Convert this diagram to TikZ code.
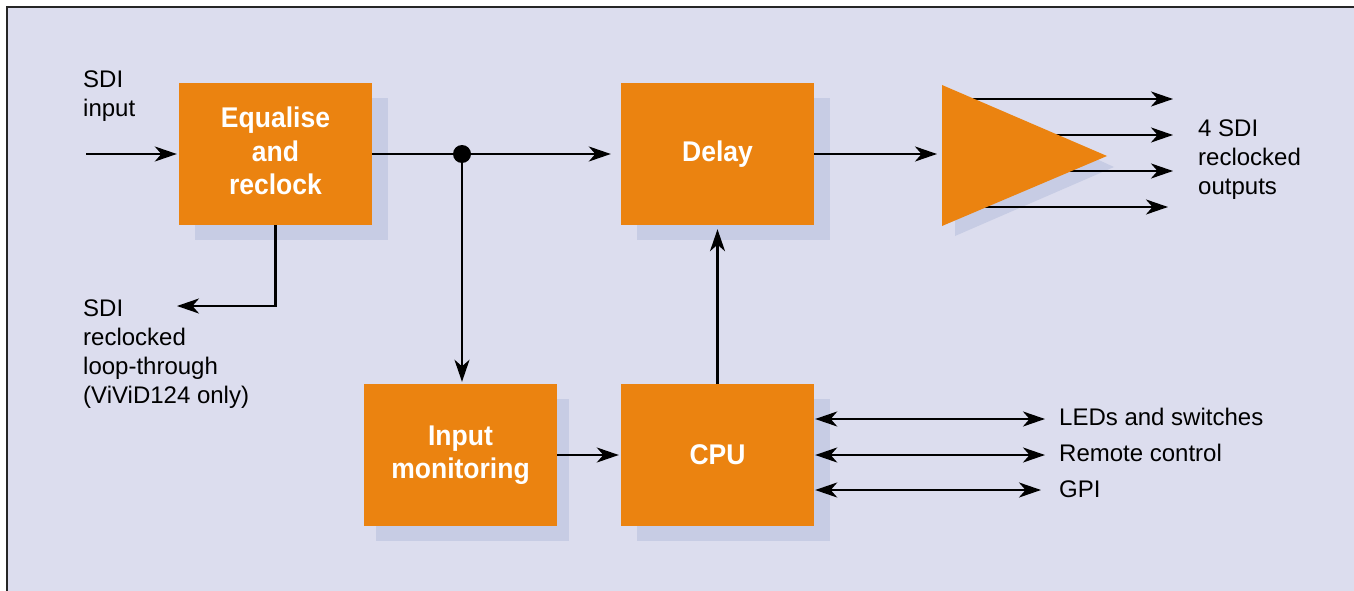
\documentclass[tikz,border=0pt]{standalone}
\usepackage{fontspec}
\setmainfont{Liberation Sans}
\newfontfamily\boxfont{Liberation Sans}[FakeStretch=0.93]
\usetikzlibrary{arrows.meta,shadows}
\definecolor{bgc}{HTML}{DCDDEE}
\definecolor{shc}{HTML}{C7CCE4}
\definecolor{orc}{HTML}{EB8310}
\begin{document}
\begin{tikzpicture}[x=1pt,y=-1pt,
  block/.style={fill=orc, draw=none, minimum width=193pt, minimum height=142pt,
    inner sep=0pt, text=white, align=center,
    font=\boxfont\bfseries\fontsize{28.5}{33.5}\selectfont},
  shad/.style={copy shadow={fill=shc, draw=none, shadow xshift=#1, shadow yshift=-15pt}},
  lbl/.style={font=\fontsize{24}{29}\selectfont, inner sep=0pt, align=left},
  dotnode/.style={circle, fill=black, minimum size=18pt, inner sep=0pt},
  tip/.tip={Stealth[length=22pt,width=15pt,inset=6.5pt]},
  wire/.style={line width=2.3pt, black},
  arr/.style={wire, -tip},
  biarr/.style={wire, tip-tip}]
\useasboundingbox (0,0) rectangle (1354,591);
% frame
\fill[bgc] (7,7) rectangle (1354,591);
\draw[line width=2pt, black!85] (7,591) -- (7,7) -- (1354,7);

% blocks
\node[block, shad=16pt] (eq) at (275.5,154) {Equalise\\and\\reclock\rule[-6pt]{0pt}{0pt}};
\node[block, shad=16pt] (delay) at (717.5,154) {Delay};
\node[block, shad=12pt] (mon) at (460.5,455) {Input\\monitoring};
\node[block, shad=16pt] (cpu) at (717.5,455) {CPU};

% amplifier shadow
\fill[shc] (955,95) -- (1114,167) -- (955,236) -- cycle;
% output arrows (behind the amplifier)
\coordinate (o1s) at (960,99);  \coordinate (o1e) at (1173,99);
\coordinate (o2s) at (960,135); \coordinate (o2e) at (1173,135);
\coordinate (o3s) at (960,171); \coordinate (o3e) at (1173,171);
\coordinate (o4s) at (960,207); \coordinate (o4e) at (1168,207);
\draw[arr] (o1s) -- (o1e);
\draw[arr] (o2s) -- (o2e);
\draw[arr] (o3s) -- (o3e);
\draw[arr] (o4s) -- (o4e);
% amplifier
\fill[orc] (942,85) -- (1107,156) -- (942,226) -- cycle;
\coordinate (ampin) at (942,154);

% labels
\node[lbl, anchor=north west] (sdiin) at (83,71) {SDI\\input};
\node[lbl, anchor=north west] (loopl) at (83,300) {SDI\\reclocked\\loop-through\\(ViViD124 only)};
\node[lbl, anchor=north west] (outl) at (1198,120) {4 SDI\\reclocked\\outputs};
\node[lbl, anchor=base west] (led) at (1059,425) {LEDs and switches};
\node[lbl, anchor=base west] (rem) at (1059,461) {Remote control};
\node[lbl, anchor=base west] (gpi) at (1059,497) {GPI};

% connectors
\coordinate (inS) at (86,154);
\draw[arr, shorten >=2pt] (inS) -- (eq.west);
\node[dotnode] (j) at (462,154) {};
\draw[wire] (eq.east) -- (j);
\draw[arr, shorten >=10pt] (j) -- (delay.west);
\draw[arr, shorten >=2pt] (j) -- (j |- mon.north);
\coordinate (loopE) at (177,306);
\draw[arr] (eq.south) |- (loopE);
\draw[arr, shorten >=4pt] (cpu.north) -- (delay.south);
\draw[arr, shorten >=2pt] (mon.east) -- (cpu.west);
\draw[arr, shorten >=5pt] (delay.east) -- (ampin);

\coordinate (l1) at (1045,419);
\coordinate (l2) at (1045,455);
\coordinate (l3) at (1041,490);
\draw[biarr, shorten <=1pt] (cpu.east |- l1) -- (l1);
\draw[biarr, shorten <=1pt] (cpu.east |- l2) -- (l2);
\draw[biarr, shorten <=1pt] (cpu.east |- l3) -- (l3);
\end{tikzpicture}
\end{document}
